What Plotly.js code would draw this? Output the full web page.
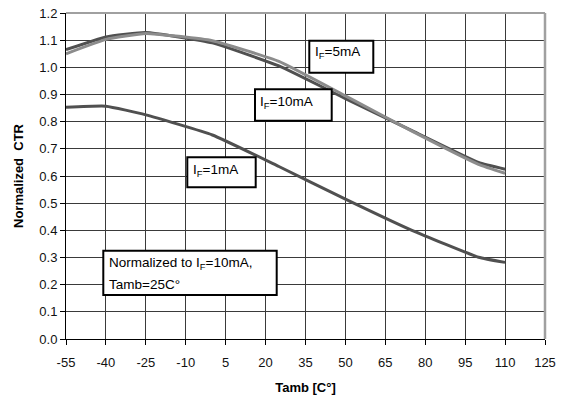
<!DOCTYPE html>
<html>
<head>
<meta charset="utf-8">
<script src="https://cdn.plot.ly/plotly-3.0.1.min.js"></script>
<style>html,body{margin:0;padding:0;background:#fff;}#chart{width:569px;height:400px;}</style>
</head>
<body>
<div id="chart"></div>
<script>
// Data
const tamb = [-55, -40, -25, 0, 25, 50, 75, 100, 110];
const ctr1mA = [0.853, 0.857, 0.825, 0.751, 0.635, 0.515, 0.400, 0.301, 0.282];
const ctr5mA = [1.050, 1.103, 1.125, 1.098, 1.022, 0.895, 0.765, 0.643, 0.610];
const ctr10mA = [1.065, 1.112, 1.128, 1.090, 1.005, 0.885, 0.767, 0.650, 0.625];
const xTickVals = [-55, -40, -25, -10, 5, 20, 35, 50, 65, 80, 95, 110, 125];
const xTickText = ["-55", "-40", "-25", "-10", "5", "20", "35", "50", "65", "80", "95", "110", "125"];
const seriesNames = ["I<sub>F</sub>=1mA", "I<sub>F</sub>=10mA", "I<sub>F</sub>=5mA"];

const FONT = "Arial, 'Liberation Sans', sans-serif";
const dark = "#505050", light = "#8c8c8c";

function tr(y, color, name) {
  return {x: tamb, y: y, type: "scatter", mode: "lines", name: name,
    line: {color: color, width: 3, shape: "spline", smoothing: 0.4}, hoverinfo: "skip"};
}
const traces = [tr(ctr1mA, dark, seriesNames[0]), tr(ctr10mA, dark, seriesNames[1]), tr(ctr5mA, light, seriesNames[2])];

// plot area in pixels
const L = 66, R = 24, T = 13, B = 61, W = 569 - L - R, H = 400 - T - B;
const px = v => (v - L) / W;
const py = v => (400 - B - v) / H;

function box(x0, y0, x1, y1) {
  return {type: "rect", xref: "paper", yref: "paper", layer: "above",
    x0: px(x0), x1: px(x1), y0: py(y1), y1: py(y0),
    line: {color: "#000", width: 2}, fillcolor: "#fff"};
}
function txt(x, y, text) {
  return {xref: "paper", yref: "paper", x: px(x), y: py(y), xanchor: "left", yanchor: "middle",
    text: text, showarrow: false, font: {family: FONT, size: 13.5, color: "#000"}, align: "left"};
}

const layout = {
  width: 569, height: 400,
  margin: {l: L, r: R, t: T, b: B},
  paper_bgcolor: "#fff", plot_bgcolor: "#fff",
  showlegend: false,
  font: {family: FONT, size: 13, color: "#111"},
  xaxis: {
    range: [-55, 125], tickvals: xTickVals, ticktext: xTickText,
    showgrid: true, gridcolor: "#3a3a3a", gridwidth: 1,
    showline: true, linecolor: "#000", linewidth: 1,
    ticks: "outside", ticklen: 5, tickcolor: "#000", ticklabelstandoff: 6,
    zeroline: false, fixedrange: true,
    title: {text: "<b>Tamb [C°]</b>", font: {family: FONT, size: 13, color: "#000"}, standoff: 14}
  },
  yaxis: {
    range: [0, 1.2], dtick: 0.1, tick0: 0, tickformat: ".1f",
    showgrid: true, gridcolor: "#3a3a3a", gridwidth: 1,
    showline: true, linecolor: "#000", linewidth: 1,
    ticks: "outside", ticklen: 5, tickcolor: "#000",
    zeroline: false, fixedrange: true,
    title: {text: "<b>Normalized  CTR</b>", font: {family: FONT, size: 13, color: "#000"}, standoff: 12}
  },
  shapes: [
    {type: "line", xref: "paper", yref: "paper", x0: 0, x1: 1, y0: 1, y1: 1, line: {color: "#a0a0a0", width: 2}, layer: "above"},
    {type: "line", xref: "paper", yref: "paper", x0: 1, x1: 1, y0: 0, y1: 1, line: {color: "#a0a0a0", width: 2.5}, layer: "above"},
    box(309.3, 40.7, 373.3, 72.7),
    box(255, 89.3, 331.7, 120.7),
    box(187.3, 157.3, 255.7, 187.3),
    box(103.3, 250.7, 276.7, 295)
  ],
  annotations: [
    txt(312.5, 53, seriesNames[2]),
    txt(257.5, 103, seriesNames[1]),
    txt(191, 170.5, seriesNames[0]),
    txt(106.5, 263.5, "Normalized to I<sub>F</sub>=10mA,"),
    txt(106.5, 284, "Tamb=25C°")
  ]
};

Plotly.newPlot("chart", traces, layout, {staticPlot: true, displayModeBar: false});
</script>
</body>
</html>
